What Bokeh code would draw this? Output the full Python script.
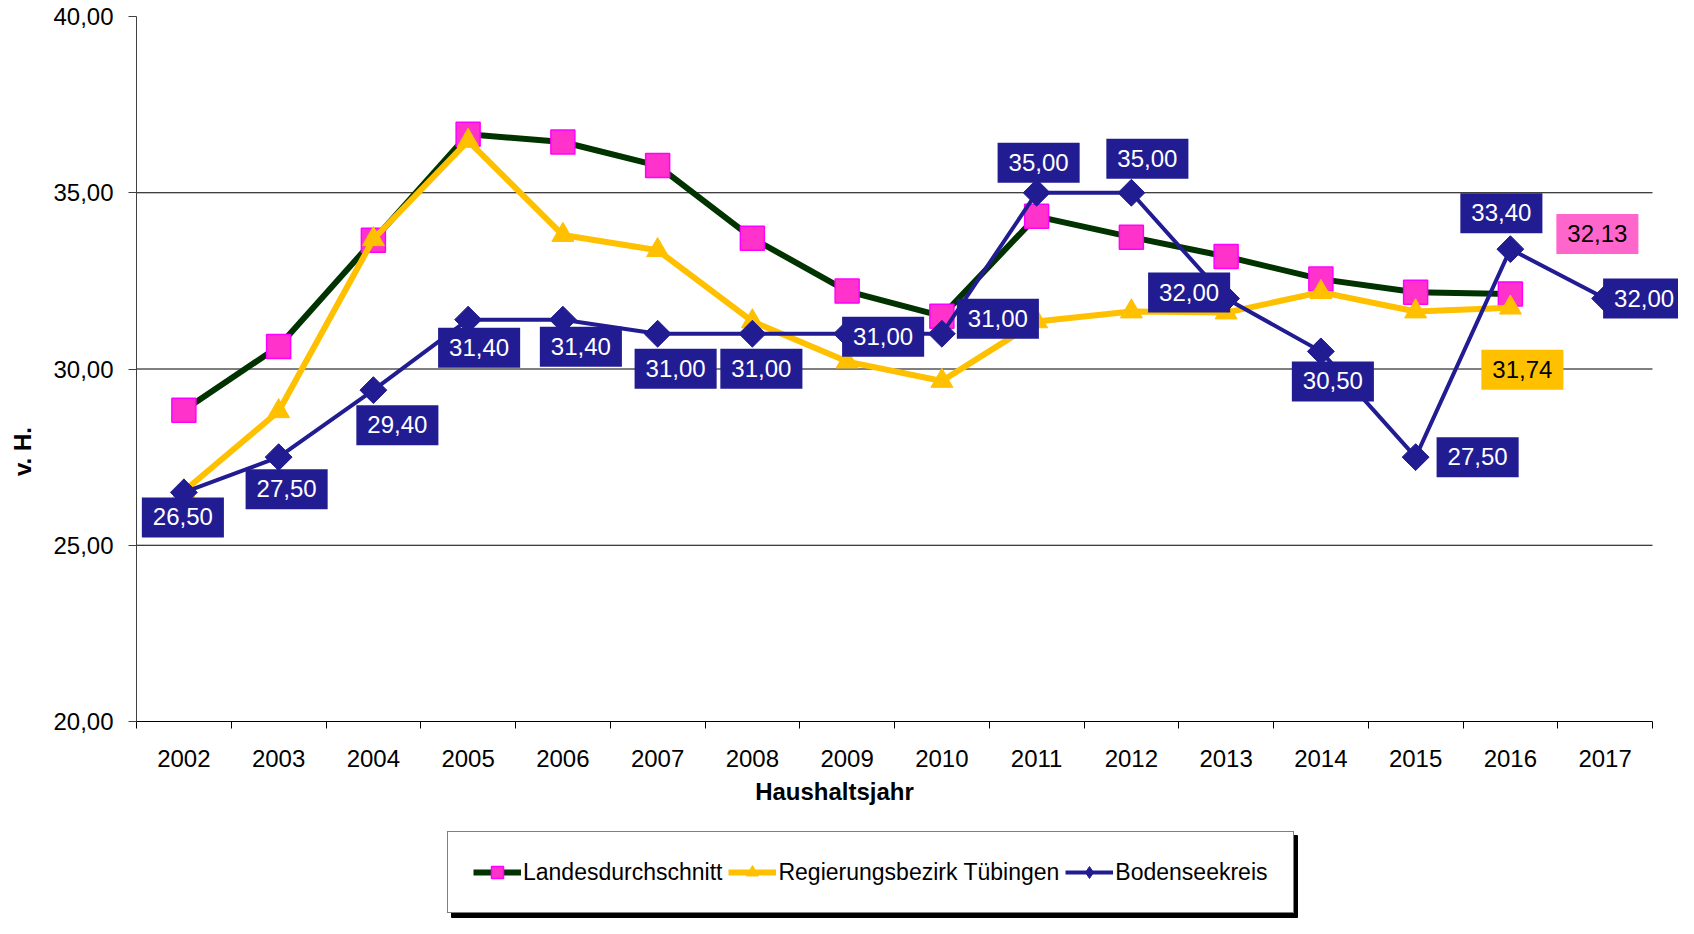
import math
from bokeh.plotting import figure
from bokeh.models import (Range1d, FixedTicker, Legend, LegendItem, Label,
                          ColumnDataSource)
from bokeh.embed import file_html
from bokeh.resources import INLINE
from bokeh.core.properties import value

# ---------------- data ----------------
years = ["2002", "2003", "2004", "2005", "2006", "2007", "2008", "2009",
         "2010", "2011", "2012", "2013", "2014", "2015", "2016", "2017"]
nan = float("nan")
landes = [28.83, 30.64, 33.65, 36.66, 36.44, 35.77, 33.71, 32.21,
          31.50, 34.33, 33.74, 33.19, 32.55, 32.18, 32.13, nan]
tuebingen = [26.53, 28.80, 33.68, 36.47, 33.80, 33.37, 31.35, 30.21,
             29.66, 31.35, 31.63, 31.60, 32.18, 31.63, 31.74, nan]
boden = [26.50, 27.50, 29.40, 31.40, 31.40, 31.00, 31.00, 31.00,
         31.00, 35.00, 35.00, 32.00, 30.50, 27.50, 33.40, 32.00]
y_ticks = [20, 25, 30, 35, 40]
series_names = ["Landesdurchschnitt", "Regierungsbezirk Tübingen", "Bodenseekreis"]

# ---------------- styles / label placement (pixels) ----------------
boden_dx = [-1, 8, 24, 11, 18, 18, 9, 36, 56, 2, 16, -37, 12, 62, -9, 39]
boden_dy = [25, 32, 35, 28, 27, 35, 35, 3, -15, -30, -34, -6, 30, 0, -36, 0]
FONT_NAME = "Liberation Sans"
FONT = value(FONT_NAME)
GREEN = "#003300"
PINK = "#FF33CC"
MAGENTA = "#FF00FF"
YELLOW = "#FFC000"
NAVY = "#221C93"
PAD = dict(left=11, right=11, top=11, bottom=12)

FIG_W, FIG_H = 1678, 918
AXIS_X = 136            # pixel column of the value axis in the figure
TOP = 16                # pixel row of the top tick
AXIS_Y = 721            # pixel row of the category axis in the figure
AXIS_PX = 1516          # pixel length of the category axis
LEG_X, LEG_Y = 447, 5   # legend bottom-left corner (px from figure bottom-left)
LEG_W, LEG_H = 846, 82  # legend box size as rendered (for its shadow)
SHADOW = 4

n = len(years)
xs = [i + 0.5 for i in range(n)]
ppx = AXIS_PX / n                                   # px per category
ppy = (AXIS_Y - TOP) / (y_ticks[-1] - y_ticks[0])   # px per value unit
x_start, x_end = -AXIS_X / ppx, (FIG_W - AXIS_X) / ppx
y_start = y_ticks[0] - (FIG_H - AXIS_Y) / ppy
y_end = y_ticks[-1] + TOP / ppy


def fmt(v):
    return f"{v:.2f}".replace(".", ",")


p = figure(width=FIG_W, height=FIG_H, output_backend="svg", toolbar_location=None,
           x_range=Range1d(x_start, x_end), y_range=Range1d(y_start, y_end),
           min_border_left=0, min_border_right=0, min_border_top=0,
           min_border_bottom=0)
p.outline_line_color = None
p.background_fill_color = "white"
p.border_fill_color = "white"

# axes (drawn at fixed positions inside the frame)
xa = p.xaxis[0]
xa.fixed_location = y_ticks[0]
xa.bounds = (0, n)
xa.ticker = FixedTicker(ticks=xs, minor_ticks=list(range(n + 1)))
xa.major_label_overrides = {x: y for x, y in zip(xs, years)}
xa.major_tick_out = 0
xa.major_tick_in = 0
xa.minor_tick_out = 7
xa.minor_tick_in = 0
xa.minor_tick_line_color = "black"
xa.axis_line_color = "black"
xa.major_label_standoff = 21
xa.major_label_text_font = FONT_NAME
xa.major_label_text_font_size = "24px"
xa.major_label_text_color = "black"

ya = p.yaxis[0]
ya.fixed_location = 0
ya.bounds = (y_ticks[0], y_ticks[-1])
ya.ticker = FixedTicker(ticks=y_ticks)
ya.major_label_overrides = {t: fmt(t) for t in y_ticks}
ya.major_tick_out = 8
ya.major_tick_in = 0
ya.minor_tick_out = 0
ya.minor_tick_in = 0
ya.axis_line_color = "#404040"
ya.major_tick_line_color = "#404040"
ya.major_label_standoff = 15
ya.major_label_text_font = FONT_NAME
ya.major_label_text_font_size = "24px"
ya.major_label_text_color = "black"

p.xgrid.visible = False
p.ygrid.visible = False
grid_y = y_ticks[1:-1]
p.segment(x0=[0] * len(grid_y), x1=[n] * len(grid_y), y0=grid_y, y1=grid_y,
          line_color="black", line_width=1)

# legend shadow (decoration behind the legend box)
p.quad(left=[x_start + (LEG_X + SHADOW) / ppx],
       right=[x_start + (LEG_X + LEG_W + SHADOW) / ppx],
       bottom=[y_start + (LEG_Y - SHADOW) / ppy],
       top=[y_start + (LEG_Y + LEG_H - SHADOW) / ppy],
       fill_color="black", line_color="black")

# series
src_l = ColumnDataSource(dict(x=xs, y=landes))
src_t = ColumnDataSource(dict(x=xs, y=tuebingen))
src_b = ColumnDataSource(dict(x=xs, y=boden))

l_line = p.line("x", "y", source=src_l, line_color=GREEN, line_width=6, line_join="round")
l_mark = p.scatter("x", "y", source=src_l, marker="square", size=24,
                   fill_color=PINK, line_color=MAGENTA, line_width=1.5)
t_line = p.line("x", "y", source=src_t, line_color=YELLOW, line_width=6, line_join="round")
t_mark = p.scatter("x", "y", source=src_t, marker="triangle", size=22,
                   fill_color=YELLOW, line_color=YELLOW, line_width=1)
b_line = p.line("x", "y", source=src_b, line_color=NAVY, line_width=4, line_join="round")
b_mark = p.scatter("x", "y", source=src_b, marker="square", size=19, angle=math.pi / 4,
                   fill_color=NAVY, line_color=NAVY, line_width=1)
# legend-only diamond glyph for the Bodenseekreis key
b_key = p.scatter(x=[nan], y=[nan], marker="diamond", size=19,
                  fill_color=NAVY, line_color=NAVY)

# data labels
lab_b = ColumnDataSource(dict(x=xs, y=boden, t=[fmt(v) for v in boden],
                              dx=boden_dx, dy=boden_dy))
p.text("x", "y", text="t", source=lab_b, x_offset="dx", y_offset="dy",
       text_color="white", text_font=FONT, text_font_size="24px",
       text_align="center", text_baseline="middle",
       background_fill_color=NAVY, padding=PAD)

last = n - 2
lab_l = ColumnDataSource(dict(x=[xs[last]], y=[landes[last]], t=[fmt(landes[last])]))
p.text("x", "y", text="t", source=lab_l, x_offset=87, y_offset=-60,
       text_color="black", text_font=FONT, text_font_size="24px",
       text_align="center", text_baseline="middle",
       background_fill_color="#FF66CC", padding=PAD)
lab_t = ColumnDataSource(dict(x=[xs[last]], y=[tuebingen[last]], t=[fmt(tuebingen[last])]))
p.text("x", "y", text="t", source=lab_t, x_offset=12, y_offset=62,
       text_color="black", text_font=FONT, text_font_size="24px",
       text_align="center", text_baseline="middle",
       background_fill_color=YELLOW, padding=PAD)

# axis titles
p.add_layout(Label(x=698 / ppx, y=y_ticks[0], y_offset=-70, text="Haushaltsjahr",
                   text_font=FONT_NAME, text_font_size="24px", text_font_style="bold",
                   text_color="black", text_align="center", text_baseline="middle"))
p.add_layout(Label(x=0, y=y_ticks[0] + 270 / ppy, x_offset=-114, text="v. H.",
                   angle=math.pi / 2,
                   text_font=FONT_NAME, text_font_size="24px", text_font_style="bold",
                   text_color="black", text_align="center", text_baseline="middle"))

# legend
legend = Legend(items=[
    LegendItem(label=series_names[0], renderers=[l_line, l_mark]),
    LegendItem(label=series_names[1], renderers=[t_line, t_mark]),
    LegendItem(label=series_names[2], renderers=[b_line, b_key]),
], orientation="horizontal", location=(LEG_X, LEG_Y))
legend.label_text_font = FONT_NAME
legend.label_text_font_size = "23px"
legend.label_text_color = "black"
legend.glyph_width = 48
legend.glyph_height = 30
legend.label_height = 30
legend.label_standoff = 2
legend.spacing = 6
legend.padding = 25
legend.margin = 0
legend.border_line_color = "black"
legend.border_line_width = 1
legend.background_fill_color = "white"
legend.background_fill_alpha = 1
p.add_layout(legend, "center")

open("out.html", "w").write(file_html(p, INLINE))
